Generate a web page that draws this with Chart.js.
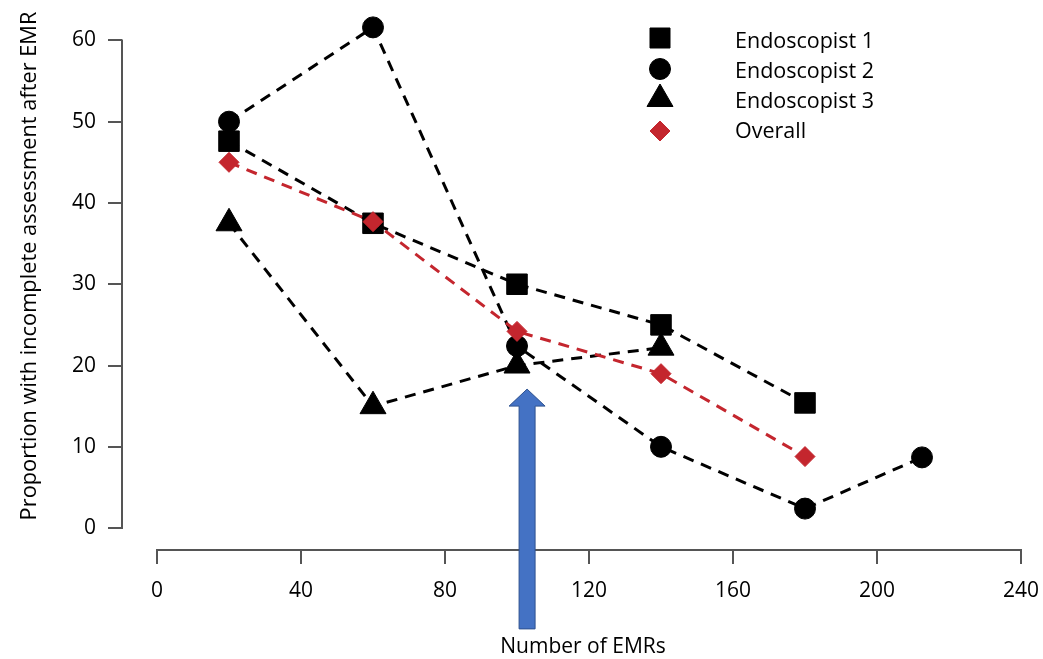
<!DOCTYPE html>
<html><head><meta charset="utf-8">
<script src="https://cdn.jsdelivr.net/npm/chart.js@4/dist/chart.umd.min.js"></script>
<style>html,body{margin:0;padding:0;background:#fff;}#wrap{width:1043px;height:659px;}</style>
</head><body><div id="wrap"><canvas id="c" width="1043" height="659"></canvas></div>
<script>
const xTicks = [0, 40, 80, 120, 160, 200, 240];
const yTicks = [0, 10, 20, 30, 40, 50, 60];
const seriesNames = ['Endoscopist 1', 'Endoscopist 2', 'Endoscopist 3', 'Overall'];
const endo1X = [20, 60, 100, 140, 180];
const endo1Y = [47.6, 37.5, 30, 25, 15.4];
const endo2X = [20, 60, 100, 140, 180, 212.5];
const endo2Y = [50, 61.6, 22.4, 10, 2.4, 8.7];
const endo3X = [20, 60, 100, 140];
const endo3Y = [37.5, 15, 20, 22.2];
const overallX = [20, 60, 100, 140, 180];
const overallY = [45, 37.7, 24.2, 19, 8.8];
const arrowX = 102.8, arrowTipY = 17.1, arrowBaseY = -12.4;
const xTitle = 'Number of EMRs';
const yTitle = 'Proportion with incomplete assessment after EMR';

const FONT = '"Open Sans", "DejaVu Sans", sans-serif';
const BLACK = '#000000';
const RED = '#C4262E';
const AXIS = '#555555';
const PX_PER_Y = 490 / 60;
const Y_TOP_EXTRA = 3;

function pts(xs, ys) { return xs.map((x, i) => ({ x: x, y: ys[i] })); }

const lineBase = { showLine: true, borderDash: [11, 8], borderWidth: 3, tension: 0, clip: false, pointBorderWidth: 1, fill: false };

const datasets = [
  Object.assign({}, lineBase, { label: seriesNames[0], data: pts(endo1X, endo1Y), borderColor: BLACK, backgroundColor: BLACK, pointBackgroundColor: BLACK, pointBorderColor: BLACK, pointStyle: 'rect', pointRadius: 14.5, order: 3 }),
  Object.assign({}, lineBase, { label: seriesNames[1], data: pts(endo2X, endo2Y), borderColor: BLACK, backgroundColor: BLACK, pointBackgroundColor: BLACK, pointBorderColor: BLACK, pointStyle: 'circle', pointRadius: 10.5, order: 2 }),
  Object.assign({}, lineBase, { label: seriesNames[2], data: pts(endo3X, endo3Y), borderColor: BLACK, backgroundColor: BLACK, pointBackgroundColor: BLACK, pointBorderColor: BLACK, pointStyle: 'triangle', pointRadius: 15, order: 1 }),
  Object.assign({}, lineBase, { label: seriesNames[3], data: pts(overallX, overallY), borderColor: RED, backgroundColor: RED, pointBackgroundColor: RED, pointBorderColor: RED, pointStyle: 'rectRot', pointRadius: 10, order: 0 })
];

function drawSymbol(ctx, style, x, y, color) {
  ctx.save();
  ctx.fillStyle = color; ctx.strokeStyle = color; ctx.lineWidth = 1;
  ctx.beginPath();
  if (style === 'rect') { ctx.rect(x - 10, y - 10, 20, 20); }
  else if (style === 'circle') { ctx.arc(x, y, 10.5, 0, Math.PI * 2); }
  else if (style === 'triangle') { const r = 15; ctx.moveTo(x, y - r); ctx.lineTo(x + r * Math.sin(2 * Math.PI / 3), y + r / 2); ctx.lineTo(x - r * Math.sin(2 * Math.PI / 3), y + r / 2); ctx.closePath(); }
  else if (style === 'rectRot') { const r = 10; ctx.moveTo(x, y - r); ctx.lineTo(x + r, y); ctx.lineTo(x, y + r); ctx.lineTo(x - r, y); ctx.closePath(); }
  ctx.fill(); ctx.stroke();
  ctx.restore();
}

const rStyle = {
  id: 'rStyle',
  afterDraw(chart) {
    const ctx = chart.ctx, xs = chart.scales.x, ys = chart.scales.y, ca = chart.chartArea;
    ctx.save();
    ctx.strokeStyle = AXIS; ctx.lineWidth = 2; ctx.lineCap = 'butt';
    ctx.beginPath();
    ctx.moveTo(xs.getPixelForValue(xTicks[0]) - 1, ca.bottom);
    ctx.lineTo(xs.getPixelForValue(xTicks[xTicks.length - 1]) + 1, ca.bottom);
    ctx.stroke();
    ctx.beginPath();
    ctx.moveTo(ca.left, ys.getPixelForValue(yTicks[0]) + 1);
    ctx.lineTo(ca.left, ys.getPixelForValue(yTicks[yTicks.length - 1]) - 1);
    ctx.stroke();

    const ax = xs.getPixelForValue(arrowX), tip = ys.getPixelForValue(arrowTipY), base = ys.getPixelForValue(arrowBaseY);
    const sw = 8, hw = 18, hh = 17;
    ctx.beginPath();
    ctx.moveTo(ax, tip);
    ctx.lineTo(ax + hw, tip + hh);
    ctx.lineTo(ax + sw, tip + hh);
    ctx.lineTo(ax + sw, base);
    ctx.lineTo(ax - sw, base);
    ctx.lineTo(ax - sw, tip + hh);
    ctx.lineTo(ax - hw, tip + hh);
    ctx.closePath();
    ctx.fillStyle = '#4472C4'; ctx.fill();
    ctx.strokeStyle = '#2F528F'; ctx.lineWidth = 1; ctx.stroke();

    const legY = [38, 69, 99, 131];
    const legTY = [42, 72, 102, 132];
    chart.data.datasets.forEach((ds, i) => {
      drawSymbol(ctx, ds.pointStyle, 660, legY[i], ds.pointBackgroundColor);
      ctx.fillStyle = '#000';
      ctx.font = '21.5px ' + FONT;
      ctx.textAlign = 'left'; ctx.textBaseline = 'middle';
      ctx.fillText(ds.label, 735, legTY[i]);
    });

    ctx.fillStyle = '#000';
    ctx.font = '21px ' + FONT;
    ctx.textAlign = 'center'; ctx.textBaseline = 'middle';
    ctx.fillText(xTitle, 583, 647);
    ctx.save();
    ctx.translate(30, 266);
    ctx.rotate(-Math.PI / 2);
    ctx.font = '21.8px ' + FONT;
    ctx.fillText(yTitle, 0, 0);
    ctx.restore();
    ctx.restore();
  }
};

new Chart(document.getElementById('c'), {
  type: 'scatter',
  data: { datasets: datasets },
  options: {
    responsive: false,
    animation: false,
    devicePixelRatio: 1,
    layout: { padding: { left: 0, top: 38 - Y_TOP_EXTRA * PX_PER_Y, right: 22, bottom: 0 } },
    plugins: { legend: { display: false }, tooltip: { enabled: false }, title: { display: false } },
    scales: {
      x: {
        type: 'linear', min: -35 / 3.6, max: 240,
        afterBuildTicks: s => { s.ticks = xTicks.map(v => ({ value: v })); },
        afterFit: s => { s.height = 109; s.paddingLeft = 0; s.paddingRight = 0; },
        ticks: { color: '#000', font: { family: FONT, size: 21 }, padding: 14, maxRotation: 0, autoSkip: false, callback: v => String(v) },
        grid: { drawOnChartArea: false, drawTicks: true, tickLength: 14, color: AXIS, lineWidth: 2 },
        border: { display: false }
      },
      y: {
        type: 'linear', min: -22 / PX_PER_Y, max: 60 + Y_TOP_EXTRA,
        afterBuildTicks: s => { s.ticks = yTicks.map(v => ({ value: v })); },
        afterFit: s => { s.width = 122; s.paddingTop = 0; s.paddingBottom = 0; },
        ticks: { color: '#000', font: { family: FONT, size: 21 }, padding: 12, autoSkip: false, callback: v => String(v) },
        grid: { drawOnChartArea: false, drawTicks: true, tickLength: 14, color: AXIS, lineWidth: 2 },
        border: { display: false }
      }
    }
  },
  plugins: [rStyle]
});
</script>
</body></html>
